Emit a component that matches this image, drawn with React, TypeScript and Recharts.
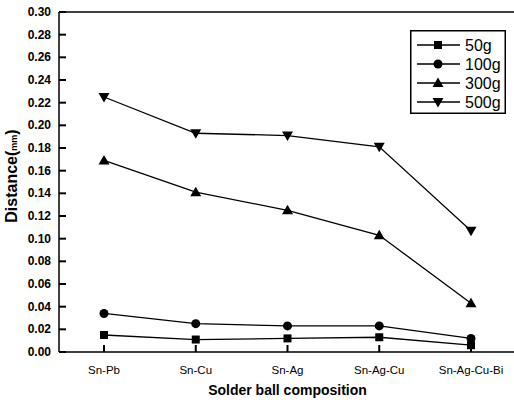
import { LineChart, Line, XAxis, YAxis, ReferenceLine } from "recharts";

const categories = ["Sn-Pb", "Sn-Cu", "Sn-Ag", "Sn-Ag-Cu", "Sn-Ag-Cu-Bi"];
const load50 = [0.015, 0.011, 0.012, 0.013, 0.006];
const load100 = [0.034, 0.025, 0.023, 0.023, 0.012];
const load300 = [0.169, 0.141, 0.125, 0.103, 0.043];
const load500 = [0.225, 0.193, 0.191, 0.181, 0.107];
const yTicks = [0, 0.02, 0.04, 0.06, 0.08, 0.1, 0.12, 0.14, 0.16, 0.18, 0.2, 0.22, 0.24, 0.26, 0.28, 0.3];

const data = categories.map((c, i) => ({
  name: c,
  g50: load50[i],
  g100: load100[i],
  g300: load300[i],
  g500: load500[i],
}));

const FONT = "'Liberation Sans', Arial, sans-serif";

function Marker({ kind, cx, cy }: { kind: string; cx: number; cy: number }) {
  if (kind === "square") return <rect x={cx - 4} y={cy - 4} width={8} height={8} fill="#000" />;
  if (kind === "circle") return <circle cx={cx} cy={cy} r={4.5} fill="#000" />;
  if (kind === "up")
    return <polygon points={`${cx},${cy - 5.5} ${cx + 5.5},${cy + 4} ${cx - 5.5},${cy + 4}`} fill="#000" />;
  return <polygon points={`${cx},${cy + 5.5} ${cx + 5.5},${cy - 4} ${cx - 5.5},${cy - 4}`} fill="#000" />;
}

const series = [
  { key: "g50", name: "50g", kind: "square" },
  { key: "g100", name: "100g", kind: "circle" },
  { key: "g300", name: "300g", kind: "up" },
  { key: "g500", name: "500g", kind: "down" },
];

// tick text sits tickMargin away from the axis line; draw the inward tick mark from there
const renderYTick = (p: any) => (
  <g>
    <line x1={p.x + 8} x2={p.x + 15} y1={p.y} y2={p.y} stroke="#000" strokeWidth={2} />
    <text x={p.x} y={p.y + 4} textAnchor="end" fontFamily={FONT} fontWeight="bold" fontSize={12} fill="#000">
      {Number(p.payload.value).toFixed(2)}
    </text>
  </g>
);

const renderXTick = (p: any) => (
  <g>
    <line x1={p.x} x2={p.x} y1={p.y - 10} y2={p.y - 17} stroke="#000" strokeWidth={2} />
    <text x={p.x} y={p.y + 12} textAnchor="middle" fontFamily={FONT} fontSize={11.5} fill="#000">
      {p.payload.value}
    </text>
  </g>
);

function LegendBox() {
  return (
    <svg width={96} height={84} style={{ position: "absolute", left: 410, top: 30 }}>
      <rect x={0.75} y={0.75} width={94.5} height={82.5} fill="#fff" stroke="#000" strokeWidth={1.5} />
      {series.map((s, i) => {
        const y = 15 + i * 19;
        return (
          <g key={s.key}>
            <line x1={7} x2={50} y1={y} y2={y} stroke="#000" strokeWidth={1.3} />
            <Marker kind={s.kind} cx={28} cy={y} />
            <text x={55} y={y + 6} fontFamily={FONT} fontSize={16} fill="#000">
              {s.name}
            </text>
          </g>
        );
      })}
    </svg>
  );
}

export default function App() {
  return (
    <div style={{ position: "absolute", left: 0, top: 0, width: 514, height: 400, overflow: "hidden", background: "#fff" }}>
      <LineChart width={520} height={400} data={data} margin={{ top: 12, right: 4, bottom: 0, left: 0 }}>
        <XAxis
          dataKey="name"
          height={48}
          padding={{ left: 45, right: 45 }}
          tickLine={false}
          tickSize={0}
          tickMargin={10}
          tick={renderXTick}
          axisLine={{ stroke: "#000", strokeWidth: 1.5 }}
          interval={0}
          label={{
            value: "Solder ball composition",
            position: "insideBottom",
            offset: 5,
            fontFamily: FONT,
            fontWeight: "bold",
            fontSize: 14,
            fill: "#000",
          }}
        />
        <YAxis
          width={59}
          domain={[0, 0.3]}
          ticks={yTicks}
          interval={0}
          tickLine={false}
          tickSize={0}
          tickMargin={8}
          tick={renderYTick}
          axisLine={{ stroke: "#000", strokeWidth: 1.5 }}
          label={{
            content: () => (
              <text
                x={17}
                y={176}
                transform="rotate(-90 17 176)"
                textAnchor="middle"
                fontFamily={FONT}
                fontWeight="bold"
                fontSize={16}
                fill="#000"
              >
                Distance(<tspan fontSize={9}>mm</tspan>)
              </text>
            ),
          }}
        />
        <ReferenceLine y={0.3} stroke="#000" strokeWidth={1.5} />
        {series.map((s) => (
          <Line
            key={s.key}
            dataKey={s.key}
            name={s.name}
            stroke="#000"
            strokeWidth={1.3}
            isAnimationActive={false}
            dot={(p: any) => <Marker key={p.index} kind={s.kind} cx={p.cx} cy={p.cy} />}
          />
        ))}
      </LineChart>
      <LegendBox />
    </div>
  );
}
